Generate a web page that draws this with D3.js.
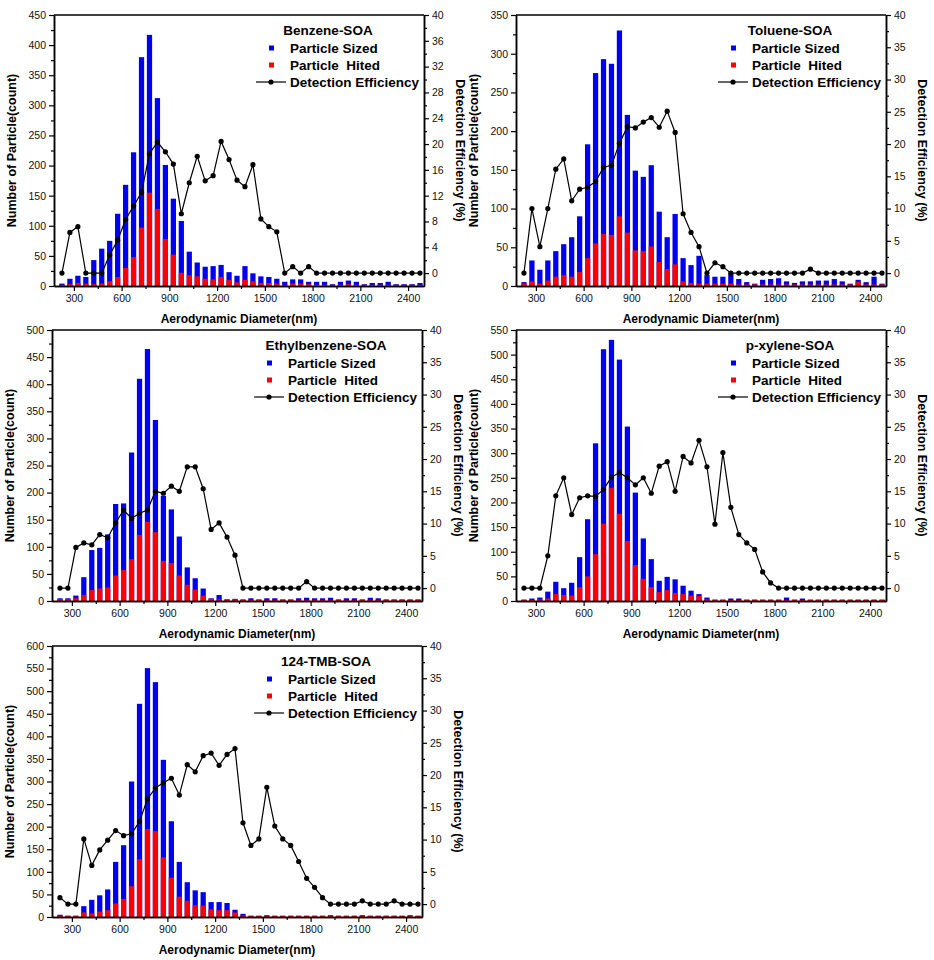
<!DOCTYPE html>
<html>
<head>
<meta charset="utf-8">
<script src="https://cdn.jsdelivr.net/npm/d3@7/dist/d3.min.js"></script>
<style>
  body { margin: 0; background: #fff; }
  svg text { font-family: "Liberation Sans", Arial, sans-serif; }
</style>
</head>
<body>
<svg id="chart" width="934" height="960"></svg>
<script>
  // bin centres (nm)
  const diameters = [225, 275, 325, 375, 425, 475, 525, 575, 625, 675, 725, 775, 825, 875, 925, 975,
    1025, 1075, 1125, 1175, 1225, 1275, 1325, 1375, 1425, 1475, 1525, 1575, 1625, 1675, 1725, 1775,
    1825, 1875, 1925, 1975, 2025, 2075, 2125, 2175, 2225, 2275, 2325, 2375, 2425, 2475];
  const xTicks = [300, 600, 900, 1200, 1500, 1800, 2100, 2400];

  const benzeneSized = [4, 12, 17, 15, 43, 62, 75, 120, 168, 222, 380, 417, 312, 201, 145, 108, 57, 39, 32, 33, 35, 23, 17, 33, 21, 16, 15, 12, 7, 11, 11, 7, 7, 7, 3, 7, 9, 7, 3, 5, 5, 7, 3, 3, 3, 5];
  const benzeneHited = [2, 3, 5, 4, 3, 4, 8, 15, 30, 48, 97, 155, 128, 78, 52, 22, 18, 16, 12, 11, 15, 10, 6, 10, 8, 5, 5, 4, 2, 4, 4, 3, 2, 2, 2, 2, 3, 2, 2, 2, 2, 2, 2, 2, 2, 2];
  const benzeneEff = [0, 6.3, 7.2, 0, 0, 0, 2.8, 5.1, 8.3, 10.4, 12.5, 18.5, 20.3, 18.8, 16.9, 9.2, 14.0, 18.1, 14.3, 15.1, 20.4, 17.6, 14.4, 13.4, 16.8, 8.4, 7.2, 6.4, 0, 1.0, 0, 1.0, 0, 0, 0, 0, 0, 0, 0, 0, 0, 0, 0, 0, 0, 0];

  const tolueneSized = [5, 33, 21, 33, 45, 54, 63, 90, 183, 275, 293, 287, 330, 221, 149, 141, 156, 96, 63, 93, 36, 27, 39, 14, 12, 12, 16, 9, 5, 3, 8, 9, 10, 6, 4, 6, 6, 7, 7, 9, 6, 3, 8, 5, 12, 3];
  const tolueneHited = [3, 6, 3, 7, 12, 14, 12, 18, 36, 55, 67, 66, 90, 69, 46, 45, 51, 31, 22, 28, 6, 4, 3, 3, 3, 3, 3, 2, 2, 2, 2, 2, 2, 2, 2, 2, 2, 2, 2, 2, 2, 2, 5, 2, 2, 2];
  const tolueneEff = [0, 10.0, 4.1, 10.0, 16.1, 17.7, 11.2, 13.0, 13.3, 14.2, 16.4, 16.7, 20.1, 22.7, 22.5, 23.4, 24.1, 22.6, 25.1, 21.8, 9.2, 6.3, 4.1, 0, 1.6, 1.0, 0, 0, 0, 0, 0, 0, 0, 0, 0, 0, 0.6, 0, 0, 0, 0, 0, 0, 0, 0, 0];

  const ethylSized = [5, 5, 10, 44, 94, 98, 123, 179, 180, 274, 410, 465, 334, 194, 169, 119, 62, 42, 23, 5, 11, 3, 4, 3, 5, 3, 5, 5, 3, 3, 5, 6, 5, 5, 6, 3, 5, 5, 3, 6, 5, 3, 3, 3, 3, 3];
  const ethylHited = [3, 3, 5, 11, 20, 23, 25, 47, 57, 77, 122, 146, 127, 74, 70, 47, 30, 21, 10, 4, 3, 3, 3, 2, 2, 2, 2, 2, 2, 2, 2, 2, 2, 2, 2, 2, 2, 2, 2, 2, 2, 2, 2, 2, 2, 2];
  const ethylEff = [0, 0, 6.3, 7.0, 6.7, 8.3, 7.8, 10.1, 12.1, 10.8, 11.6, 12.1, 15.0, 14.7, 15.8, 15.0, 18.8, 18.8, 15.4, 9.1, 10.1, 7.9, 5.1, 0, 0, 0, 0, 0, 0, 0, 0, 1.0, 0, 0, 0, 0, 0, 0, 0, 0, 0, 0, 0, 0, 0, 0];

  const xyleneSized = [3, 5, 7, 19, 39, 26, 37, 89, 166, 320, 511, 530, 490, 354, 220, 127, 85, 41, 49, 44, 31, 21, 14, 7, 3, 3, 5, 5, 3, 3, 3, 3, 3, 7, 3, 5, 3, 3, 3, 3, 3, 3, 3, 3, 3, 3];
  const xyleneHited = [2, 2, 3, 5, 14, 12, 11, 28, 50, 95, 157, 230, 177, 122, 73, 45, 28, 18, 22, 16, 14, 11, 10, 3, 2, 2, 2, 2, 2, 2, 2, 2, 2, 2, 2, 2, 2, 2, 2, 2, 2, 2, 2, 2, 2, 2];
  const xyleneEff = [0, 0, 0, 5.0, 14.3, 17.1, 11.4, 14.0, 14.3, 14.2, 15.3, 17.2, 17.9, 17.1, 16.0, 17.1, 14.7, 18.9, 19.6, 15.0, 20.4, 19.4, 22.9, 18.8, 9.9, 21.0, 12.5, 8.3, 7.0, 6.0, 2.5, 0.8, 0, 0, 0, 0, 0, 0, 0, 0, 0, 0, 0, 0, 0, 0];

  const tmbSized = [5, 3, 3, 24, 38, 48, 61, 122, 159, 300, 472, 551, 520, 348, 212, 122, 77, 59, 55, 33, 33, 31, 16, 7, 3, 3, 4, 3, 3, 3, 3, 3, 3, 3, 4, 3, 3, 3, 4, 3, 3, 3, 3, 3, 4, 3];
  const tmbHited = [3, 2, 2, 10, 8, 12, 15, 30, 40, 68, 128, 195, 190, 132, 87, 45, 36, 26, 25, 17, 15, 15, 10, 3, 2, 2, 2, 2, 2, 2, 2, 2, 2, 2, 2, 2, 2, 2, 2, 2, 2, 2, 2, 2, 2, 2];
  const tmbEff = [1.0, 0, 0, 10.1, 6.0, 8.4, 9.9, 11.4, 10.6, 10.9, 12.8, 16.3, 18.0, 18.8, 19.5, 16.9, 21.6, 20.5, 23.0, 23.4, 21.5, 23.2, 24.1, 12.6, 9.1, 10.1, 18.1, 12.1, 10.1, 9.1, 6.6, 4.0, 2.6, 1.0, 0, 0, 0, 0, 0.5, 0, 0, 0, 0.5, 0, 0, 0];

  const panels = [
    { title: "Benzene-SOA", sized: benzeneSized, hited: benzeneHited, eff: benzeneEff, yMax: 450, effStep: 4, left: 54, top: 15 },
    { title: "Toluene-SOA", sized: tolueneSized, hited: tolueneHited, eff: tolueneEff, yMax: 350, effStep: 5, left: 516, top: 15 },
    { title: "Ethylbenzene-SOA", sized: ethylSized, hited: ethylHited, eff: ethylEff, yMax: 500, effStep: 5, left: 52, top: 330 },
    { title: "p-xylene-SOA", sized: xyleneSized, hited: xyleneHited, eff: xyleneEff, yMax: 550, effStep: 5, left: 516, top: 330 },
    { title: "124-TMB-SOA", sized: tmbSized, hited: tmbHited, eff: tmbEff, yMax: 600, effStep: 5, left: 52, top: 646 }
  ];

  const width = 370, height = 271;
  const svg = d3.select("#chart");

  const styleAxis = (g) => {
    g.select(".domain").attr("stroke", "#000").attr("stroke-width", 1.5);
    g.selectAll(".tick line").attr("stroke", "#000").attr("stroke-width", 1.2);
    g.selectAll(".tick text")
      .attr("fill", "#111")
      .style("font-size", "10.5px");
  };

  const drawPanel = (p) => {
    const g = svg.append("g").attr("transform", `translate(${p.left},${p.top})`);

    const x = d3.scaleLinear().domain([175, 2500]).range([0, width]);
    const y = d3.scaleLinear().domain([0, p.yMax]).range([height, 0]);
    const y2 = d3.scaleLinear().domain([-2, 40]).range([height, 0]);
    const bw = (x(275) - x(225)) * 0.66;

    // bars: blue total, red hit count in front
    g.selectAll(".sized")
      .data(diameters)
      .enter()
      .append("rect")
      .attr("fill", "#0000f0")
      .attr("x", (d) => x(d) - bw / 2)
      .attr("width", bw)
      .attr("y", (d, i) => y(p.sized[i]))
      .attr("height", (d, i) => height - y(p.sized[i]));

    g.selectAll(".hited")
      .data(diameters)
      .enter()
      .append("rect")
      .attr("fill", "#ff0000")
      .attr("x", (d) => x(d) - bw / 2)
      .attr("width", bw)
      .attr("y", (d, i) => y(p.hited[i]))
      .attr("height", (d, i) => height - y(p.hited[i]));

    // efficiency line
    const line = d3
      .line()
      .x((d) => x(d))
      .y((d, i) => y2(p.eff[i]));

    g.append("path")
      .datum(diameters)
      .attr("fill", "none")
      .attr("stroke", "#000")
      .attr("stroke-width", 1.2)
      .attr("d", line);

    g.selectAll(".dot")
      .data(diameters)
      .enter()
      .append("circle")
      .attr("fill", "#000")
      .attr("r", 2.6)
      .attr("cx", (d) => x(d))
      .attr("cy", (d, i) => y2(p.eff[i]));

    // axes
    const yTicks = d3.range(0, p.yMax + 1, 50);
    const yMinor = d3.range(25, p.yMax, 50);
    const effTicks = d3.range(0, 41, p.effStep);
    const effMinor = d3.range(p.effStep / 2, 40, p.effStep);
    const xMinor = [450, 750, 1050, 1350, 1650, 1950, 2250];

    g.append("g")
      .call(d3.axisLeft(y).tickValues(yMinor).tickFormat("").tickSize(3).tickSizeOuter(0))
      .call(styleAxis);
    g.append("g")
      .call(d3.axisLeft(y).tickValues(yTicks).tickFormat(d3.format("d")).tickSize(5).tickPadding(3).tickSizeOuter(0))
      .call(styleAxis);

    g.append("g")
      .attr("transform", `translate(${width},0)`)
      .call(d3.axisRight(y2).tickValues(effMinor).tickFormat("").tickSize(3).tickSizeOuter(0))
      .call(styleAxis);
    g.append("g")
      .attr("transform", `translate(${width},0)`)
      .call(d3.axisRight(y2).tickValues(effTicks).tickFormat(d3.format("d")).tickSize(5).tickPadding(3).tickSizeOuter(0))
      .call(styleAxis);

    g.append("g")
      .attr("transform", `translate(0,${height})`)
      .call(d3.axisBottom(x).tickValues(xMinor).tickFormat("").tickSize(3).tickSizeOuter(0))
      .call(styleAxis);
    g.append("g")
      .attr("transform", `translate(0,${height})`)
      .call(d3.axisBottom(x).tickValues(xTicks).tickFormat(d3.format("d")).tickSize(5).tickPadding(4).tickSizeOuter(0))
      .call(styleAxis);

    // top frame line
    g.append("line")
      .attr("x1", 0)
      .attr("x2", width)
      .attr("y1", 0)
      .attr("y2", 0)
      .attr("stroke", "#000")
      .attr("stroke-width", 1.5);

    // axis titles
    g.append("text")
      .attr("x", width / 2)
      .attr("y", height + 37)
      .attr("text-anchor", "middle")
      .style("font-size", "12px")
      .style("font-weight", "bold")
      .text("Aerodynamic Diameter(nm)");

    g.append("text")
      .attr("transform", `translate(-38,${height / 2}) rotate(-90)`)
      .attr("text-anchor", "middle")
      .style("font-size", "12.5px")
      .style("font-weight", "bold")
      .text("Number of Particle(count)");

    g.append("text")
      .attr("transform", `translate(${width + 32},${height / 2}) rotate(90)`)
      .attr("text-anchor", "middle")
      .style("font-size", "12.5px")
      .style("font-weight", "bold")
      .text("Detection Efficiency (%)");

    // legend
    const lg = g.append("g").attr("transform", `translate(${width},0)`);
    lg.append("text")
      .attr("x", -96)
      .attr("y", 20)
      .attr("text-anchor", "middle")
      .style("font-size", "13.5px")
      .style("font-weight", "bold")
      .text(p.title);

    const rows = [
      { label: "Particle Sized", color: "#0000f0", y: 33 },
      { label: "Particle  Hited", color: "#ff0000", y: 50 }
    ];
    rows.forEach((r) => {
      lg.append("rect")
        .attr("x", -155)
        .attr("y", r.y - 2.5)
        .attr("width", 5)
        .attr("height", 5)
        .attr("fill", r.color);
      lg.append("text")
        .attr("x", -134)
        .attr("y", r.y + 5)
        .style("font-size", "13.5px")
        .style("font-weight", "bold")
        .style("white-space", "pre")
        .text(r.label);
    });

    lg.append("line")
      .attr("x1", -168)
      .attr("x2", -138)
      .attr("y1", 67)
      .attr("y2", 67)
      .attr("stroke", "#000")
      .attr("stroke-width", 1.2);
    lg.append("circle").attr("cx", -153).attr("cy", 67).attr("r", 2.6).attr("fill", "#000");
    lg.append("text")
      .attr("x", -134)
      .attr("y", 72)
      .style("font-size", "13.5px")
      .style("font-weight", "bold")
      .text("Detection Efficiency");
  };

  panels.forEach(drawPanel);
</script>
</body>
</html>
